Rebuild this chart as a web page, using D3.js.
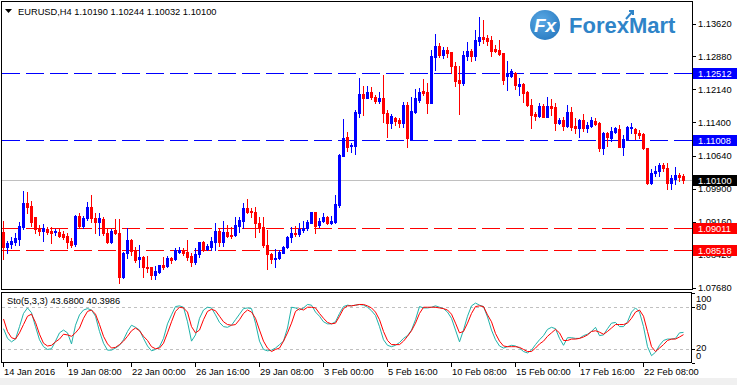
<!DOCTYPE html>
<html><head><meta charset="utf-8">
<script src="https://cdn.jsdelivr.net/npm/d3@7"></script>
<style>
html,body{margin:0;padding:0;background:#fff;overflow:hidden;}
svg{display:block;font-family:"Liberation Sans",Arial,sans-serif;}
</style>
</head><body>
<svg id="chart" width="737" height="385"></svg>
<script>
// ---------------- DATA ----------------
const symbolTitle = "EURUSD,H4";
const lastBar = [1.10190, 1.10244, 1.10032, 1.10100];
const opens = [1.08937,1.08599,1.08653,1.08705,1.08779,1.09049,1.09576,1.09515,1.09261,1.09013,
1.08959,1.08991,1.08959,1.0893,1.08937,1.08885,1.0884,1.08728,1.08653,1.0929,
1.09065,1.09238,1.09486,1.09238,1.09162,1.09216,1.08914,1.08712,1.08975,1.08901,
1.07911,1.08451,1.0875,1.08509,1.08316,1.08361,1.08149,1.08136,1.07963,1.08037,
1.08188,1.08165,1.08338,1.08316,1.08487,1.08525,1.08487,1.0839,1.08262,1.08435,
1.08712,1.08548,1.08599,1.08712,1.08953,1.08712,1.08923,1.08863,1.08863,1.09065,
1.09184,1.09463,1.09403,1.09373,1.09126,1.09036,1.08631,1.08428,1.08329,1.08352,
1.08464,1.08586,1.08811,1.08914,1.08878,1.08975,1.09027,1.09139,1.09373,1.09088,
1.09184,1.09274,1.09126,1.09162,1.09538,1.10647,1.11061,1.10858,1.10872,1.11614,
1.12035,1.11952,1.12073,1.11961,1.11884,1.11938,1.11601,1.11376,1.11488,1.1145,
1.11389,1.11788,1.11023,1.11637,1.119,1.12109,1.12087,1.11839,1.12874,1.13115,
1.12913,1.13025,1.12987,1.12665,1.1235,1.12289,1.12897,1.13003,1.12897,1.13234,
1.13324,1.13302,1.1325,1.13041,1.13025,1.12964,1.12447,1.12447,1.12501,1.12222,
1.1226,1.12087,1.11788,1.11578,1.1154,1.11765,1.11524,1.11765,1.11736,1.11376,
1.1145,1.11322,1.11623,1.11315,1.11277,1.1145,1.11277,1.11322,1.11428,1.11389,
1.10827,1.11164,1.11038,1.11187,1.11241,1.10849,1.11016,1.1127,1.11248,1.11164,
1.11135,1.10813,1.10039,1.10264,1.10303,1.10438,1.10363,1.10026,1.10116,1.10213,
1.10190];
const highs = [1.09184,1.08728,1.08824,1.08901,1.09162,1.09853,1.09823,1.09628,1.09274,1.09088,
1.0911,1.09049,1.09036,1.08991,1.08991,1.08953,1.08914,1.08788,1.09313,1.09364,
1.0929,1.09612,1.09763,1.09364,1.09364,1.09274,1.09013,1.08991,1.09216,1.09216,
1.08487,1.09013,1.08766,1.08599,1.08638,1.0839,1.0839,1.08136,1.08165,1.08188,
1.08361,1.0839,1.08374,1.08563,1.08586,1.08563,1.0875,1.08451,1.08563,1.08712,
1.08728,1.0866,1.08824,1.09139,1.09013,1.09178,1.09088,1.09036,1.09274,1.09274,
1.09576,1.09673,1.09463,1.09499,1.09274,1.09261,1.08975,1.08464,1.08541,1.08525,
1.08615,1.0884,1.09036,1.09065,1.09139,1.09184,1.092,1.09387,1.09387,1.09238,
1.09351,1.0929,1.0929,1.09763,1.10685,1.11473,1.11173,1.10939,1.11675,1.12388,
1.12222,1.12222,1.12199,1.12013,1.12073,1.12463,1.11675,1.11585,1.11524,1.11488,
1.11862,1.11862,1.11974,1.12141,1.12163,1.12366,1.12289,1.13025,1.13385,1.13176,
1.13086,1.13099,1.12987,1.12762,1.12665,1.13009,1.13212,1.13041,1.13475,1.13768,
1.137,1.13363,1.13347,1.13138,1.1325,1.12964,1.12784,1.12591,1.12537,1.12388,
1.12276,1.12109,1.11916,1.11637,1.11826,1.1181,1.11961,1.11916,1.11826,1.11488,
1.11511,1.11788,1.11749,1.11488,1.11466,1.11585,1.11412,1.11511,1.11488,1.11412,
1.11187,1.11187,1.11299,1.11299,1.11338,1.11113,1.11315,1.11389,1.11263,1.11225,
1.11164,1.10813,1.10341,1.10415,1.10476,1.10476,1.10476,1.10213,1.10399,1.10264,
1.10244];
const lows = [1.08323,1.08464,1.08563,1.08638,1.08638,1.08991,1.09351,1.09065,1.08901,1.08863,
1.08728,1.08885,1.08689,1.08863,1.08824,1.08766,1.08577,1.08599,1.08622,1.09013,
1.09013,1.092,1.09162,1.08914,1.08863,1.08863,1.08676,1.08689,1.08885,1.07776,
1.07888,1.08338,1.08413,1.08262,1.08136,1.07924,1.08037,1.07866,1.07866,1.08001,
1.08091,1.08136,1.08239,1.083,1.08464,1.08413,1.083,1.08165,1.0821,1.08374,
1.08509,1.08525,1.08525,1.08525,1.08615,1.08622,1.08824,1.08802,1.0884,1.08923,
1.09013,1.09351,1.09274,1.08824,1.08937,1.08599,1.08091,1.08226,1.08149,1.08316,
1.08451,1.08563,1.08712,1.0884,1.0884,1.08937,1.08975,1.09126,1.08914,1.09049,
1.09148,1.0911,1.09103,1.09126,1.09493,1.1064,1.10753,1.10737,1.10685,1.11524,
1.11563,1.11938,1.11923,1.11826,1.11826,1.11398,1.11074,1.11263,1.11338,1.11286,
1.11286,1.10849,1.11,1.11614,1.11862,1.12013,1.11614,1.11826,1.12575,1.12861,
1.12838,1.12874,1.12514,1.12222,1.11585,1.12238,1.128,1.12784,1.128,1.13138,
1.13176,1.13138,1.1289,1.12973,1.12913,1.1226,1.12125,1.12424,1.12141,1.12013,
1.11862,1.11765,1.11263,1.1145,1.11524,1.11511,1.11511,1.11563,1.11225,1.1136,
1.11225,1.11299,1.11225,1.11151,1.11061,1.11209,1.11187,1.11299,1.11338,1.10759,
1.10685,1.10865,1.10984,1.11164,1.10836,1.10663,1.11,1.11151,1.11016,1.11038,
1.10791,1.1001,1.1001,1.1019,1.1019,1.10309,1.09891,1.09891,1.1001,1.10084,
1.10032];
const closes = [1.08599,1.08676,1.08734,1.08802,1.09065,1.09576,1.09499,1.09162,1.08991,1.08959,
1.09013,1.0893,1.08914,1.08946,1.0884,1.08811,1.08712,1.08638,1.0929,1.09065,
1.09252,1.09486,1.09238,1.09162,1.09238,1.08901,1.08712,1.08959,1.08901,1.07911,
1.08464,1.0875,1.08509,1.083,1.08361,1.08136,1.08127,1.07963,1.08059,1.08188,
1.08149,1.08338,1.083,1.08525,1.08525,1.08451,1.08361,1.08262,1.08435,1.08712,
1.08541,1.08615,1.08728,1.08953,1.08712,1.08923,1.08847,1.08847,1.09088,1.092,
1.09463,1.09387,1.09373,1.09126,1.09013,1.08631,1.08428,1.08323,1.08352,1.08487,
1.08586,1.08811,1.08901,1.08878,1.08998,1.09027,1.09162,1.09373,1.09072,1.09184,
1.09261,1.09126,1.09184,1.0956,1.10663,1.11038,1.10849,1.10894,1.11623,1.12035,
1.11952,1.12073,1.11961,1.11884,1.11938,1.11601,1.11376,1.1154,1.11428,1.11389,
1.11788,1.11038,1.11659,1.11938,1.12087,1.12064,1.11839,1.1289,1.13115,1.12913,
1.13025,1.12951,1.12665,1.12334,1.12289,1.12913,1.13003,1.12897,1.1325,1.13324,
1.13273,1.13234,1.13009,1.13009,1.12935,1.1235,1.12478,1.12559,1.12238,1.12253,
1.12064,1.11788,1.11563,1.1154,1.11765,1.11524,1.11765,1.11727,1.11376,1.1145,
1.11322,1.11623,1.11299,1.11277,1.1145,1.11277,1.11338,1.1145,1.1136,1.10813,
1.11164,1.11061,1.11203,1.11263,1.10849,1.11016,1.11299,1.11286,1.11151,1.11119,
1.10813,1.10039,1.10264,1.10303,1.10438,1.10363,1.10026,1.10138,1.10213,1.10174,
1.10100];
const stochK = [49,35,30,34,52,71,79,72,52,33, 23,19,20,31,43,47,43,27,54,69,
76,78,76,67,45,28,18,18,21,25, 33,45,54,51,47,35,24,17,19,23,
35,56,69,81,82,80,59,31,40,64, 76,80,79,69,58,52,51,54,62,70,
78,79,78,57,31,19,17,18,21,26, 31,50,80,79,76,79,84,83,73,67,
59,56,56,59,71,81,83,82,83,84, 83,80,75,68,52,33,25,23,25,29,
35,39,47,62,81,79,79,80,82,80, 78,73,64,47,30,47,67,82,86,83,
81,66,47,33,24,21,23,25,24,21, 16,14,18,26,33,39,48,51,49,35,
25,36,36,35,35,39,41,45,51,39, 40,49,57,58,52,52,59,73,79,73,
52,23,10,15,25,32,34,34,35,43, 43.68];
const stochD = [63,45,36,34,43,55,67,70,58,41, 28,24,25,30,34,41,40,38,43,50,
64,74,76,70,55,38,27,21,22,26, 31,38,46,50,46,38,32,23,20,21,
28,43,59,74,80,79,73,52,43,47, 62,74,77,75,67,59,55,54,55,62,
71,76,73,64,47,31,21,16,19,21, 31,43,57,74,78,76,80,80,79,71,
64,58,56,57,67,78,82,82,83,84, 84,82,79,73,62,45,32,26,26,26,
31,38,46,57,71,80,80,80,80,79, 78,76,70,57,43,45,57,71,81,82,
81,69,59,42,31,24,23,23,23,22, 19,16,16,21,27,31,38,43,48,43,
32,32,34,34,35,37,40,45,46,44, 41,45,50,55,55,55,57,64,73,76,
67,45,23,16,21,26,32,34,34,37, 40.3986];
const priceTicks = [1.13620,1.12880,1.12140,1.11400,1.10640,1.09900,1.09160,1.08420,1.07680];
const levelValues = [1.12512, 1.11008, 1.09011, 1.08518];
const levelKinds = ["up","up","down","down"];
const timeLabels = ["14 Jan 2016","19 Jan 08:00","22 Jan 00:00","26 Jan 16:00","29 Jan 08:00",
  "3 Feb 00:00","5 Feb 16:00","10 Feb 08:00","15 Feb 00:00","17 Feb 16:00","22 Feb 08:00"];
const timeLabelBars = [0,16,32,48,64,80,96,112,128,144,160];
const stochTicks = [100,80,20,0];
const stochLevels = [80,20];

// ---------------- DRAW ----------------
const svg = d3.select("#chart");
const W = 737, H = 385;
const n = opens.length;
const bars = d3.range(n).map(i => ({i, o:opens[i], h:highs[i], l:lows[i], c:closes[i]}));

const x = d3.scaleLinear().domain([0, 170]).range([3.5, 683.5]);
const y = d3.scaleLinear().domain([1.0768, 1.1362]).range([287.5, 23.5]);
const ys = d3.scaleLinear().domain([0, 100]).range([362.6, 293.4]);

const blue = "#0000ff", red = "#ff0000";

svg.append("rect").attr("width", W).attr("height", H).attr("fill", "#fff");
svg.append("rect").attr("x",0).attr("y",378).attr("width",W).attr("height",7).attr("fill","#f0f0f0");

// level lines
const levelColor = k => k === "up" ? blue : red;
svg.append("g").selectAll("line").data(levelValues).join("line")
  .attr("x1", 2).attr("x2", 692)
  .attr("y1", d => Math.round(y(d)) + 0.5).attr("y2", d => Math.round(y(d)) + 0.5)
  .attr("stroke", (d,i) => levelColor(levelKinds[i]))
  .attr("stroke-width", 1).attr("stroke-dasharray", "18,6");

// current price line
svg.append("line").attr("x1",2).attr("x2",692)
  .attr("y1", Math.round(y(lastBar[3]))+0.5).attr("y2", Math.round(y(lastBar[3]))+0.5)
  .attr("stroke","#c0c0c0").attr("stroke-width",1);

// candles
const cg = svg.append("g");
cg.selectAll("line.wick").data(bars).join("line").attr("class","wick")
  .attr("x1", d => Math.round(x(d.i)-0.5)+0.5).attr("x2", d => Math.round(x(d.i)-0.5)+0.5)
  .attr("y1", d => Math.round(y(d.h))).attr("y2", d => Math.round(y(d.l))+1)
  .attr("stroke", d => d.c >= d.o ? blue : red).attr("stroke-width", 1);
cg.selectAll("rect.body").data(bars).join("rect").attr("class","body")
  .attr("x", d => Math.round(x(d.i)-0.5)-1)
  .attr("width", 3)
  .attr("y", d => Math.round(y(Math.max(d.o,d.c))))
  .attr("height", d => Math.max(1, Math.round(y(Math.min(d.o,d.c))) - Math.round(y(Math.max(d.o,d.c))) + 1))
  .attr("fill", d => d.c >= d.o ? blue : red);

// frames
svg.append("rect").attr("x",1.5).attr("y",1.5).attr("width",691).attr("height",288)
  .attr("fill","none").attr("stroke","#000");
svg.append("rect").attr("x",1.5).attr("y",292.5).attr("width",690).attr("height",70)
  .attr("fill","none").attr("stroke","#000");

// price axis
const pa = svg.append("g");
pa.selectAll("line").data(priceTicks).join("line")
  .attr("x1",693).attr("x2",696)
  .attr("y1", d => Math.round(y(d))+0.5).attr("y2", d => Math.round(y(d))+0.5)
  .attr("stroke","#000");
pa.selectAll("text").data(priceTicks).join("text")
  .attr("x",698).attr("y", d => y(d)+3.5)
  .attr("font-size",9.3).attr("fill","#000")
  .text(d => d.toFixed(5));

// level labels
const lg = svg.append("g");
levelValues.forEach((v,i) => {
  const yy = Math.round(y(v));
  lg.append("rect").attr("x",693).attr("y",yy-5).attr("width",44).attr("height",11)
    .attr("fill", levelColor(levelKinds[i]));
  lg.append("text").attr("x",698).attr("y",yy+4).attr("font-size",9.3).attr("fill","#fff").text(v.toFixed(5));
});
{
  const yy = Math.round(y(lastBar[3]));
  lg.append("rect").attr("x",693).attr("y",yy-5).attr("width",44).attr("height",11).attr("fill","#000");
  lg.append("text").attr("x",698).attr("y",yy+4).attr("font-size",9.3).attr("fill","#fff").text(lastBar[3].toFixed(5));
}

// title
svg.append("path").attr("d","M5,9 L12,9 L8.5,13 Z").attr("fill","#000");
svg.append("text").attr("x",18).attr("y",14.5).attr("font-size",9.3).attr("fill","#000")
  .text(symbolTitle + "  " + lastBar.map(v => v.toFixed(5)).join(" "));

// logo
const logo = svg.append("g");
const grad = svg.append("defs").append("radialGradient").attr("id","lg").attr("cx","40%").attr("cy","35%").attr("r","70%");
grad.append("stop").attr("offset","0%").attr("stop-color","#5aa8e4");
grad.append("stop").attr("offset","100%").attr("stop-color","#2a7cc2");
logo.append("circle").attr("cx",545).attr("cy",25).attr("r",15).attr("fill","url(#lg)");
logo.append("text").attr("x",545).attr("y",32).attr("text-anchor","middle")
  .attr("font-size",19).attr("font-weight","bold").attr("font-style","italic").attr("fill","#fff").text("Fx");
logo.append("text").attr("x",569).attr("y",33).attr("font-size",22).attr("font-weight","bold")
  .attr("fill","#2f84c8").text("ForexMart");
logo.append("path").attr("d","M626,19 L633,11 M629,11 L633,11 L633,15").attr("stroke","#2f84c8").attr("stroke-width",2).attr("fill","none");

// stochastic panel
svg.append("g").selectAll("line").data(stochLevels).join("line")
  .attr("x1",2).attr("x2",691)
  .attr("y1", d => Math.round(ys(d))+0.5).attr("y2", d => Math.round(ys(d))+0.5)
  .attr("stroke","#c0c0c0").attr("stroke-dasharray","3,3");
const lineK = d3.line().x((d,i) => x(i)).y(d => ys(d));
svg.append("path").datum(stochK).attr("d", lineK).attr("fill","none").attr("stroke","#20b2aa").attr("stroke-width",1);
svg.append("path").datum(stochD).attr("d", lineK).attr("fill","none").attr("stroke","#ff0000").attr("stroke-width",1);
svg.append("text").attr("x",7).attr("y",304).attr("font-size",9.3).attr("fill","#000")
  .text("Sto(5,3,3) " + stochK[n-1].toFixed(4) + " " + stochD[n-1].toFixed(4));
const sa = svg.append("g");
sa.selectAll("line").data(stochTicks).join("line")
  .attr("x1",692).attr("x2",695)
  .attr("y1", d => Math.round(ys(d))+0.5).attr("y2", d => Math.round(ys(d))+0.5).attr("stroke","#000");
const stochLabelY = {100:302, 80:310, 20:351, 0:359};
sa.selectAll("text").data(stochTicks).join("text")
  .attr("x",696).attr("y", d => stochLabelY[d]).attr("font-size",9.3).attr("fill","#000").text(d => d);

// time axis
const ta = svg.append("g");
ta.selectAll("line").data(timeLabelBars).join("line")
  .attr("x1", d => Math.round(x(d)-0.5)+0.5).attr("x2", d => Math.round(x(d)-0.5)+0.5)
  .attr("y1",363).attr("y2",367).attr("stroke","#000");
ta.selectAll("text").data(timeLabels).join("text")
  .attr("x",(d,i) => Math.round(x(timeLabelBars[i]))).attr("y",375)
  .attr("font-size",9.3).attr("fill","#000").text(d => d);
</script>
</body></html>
